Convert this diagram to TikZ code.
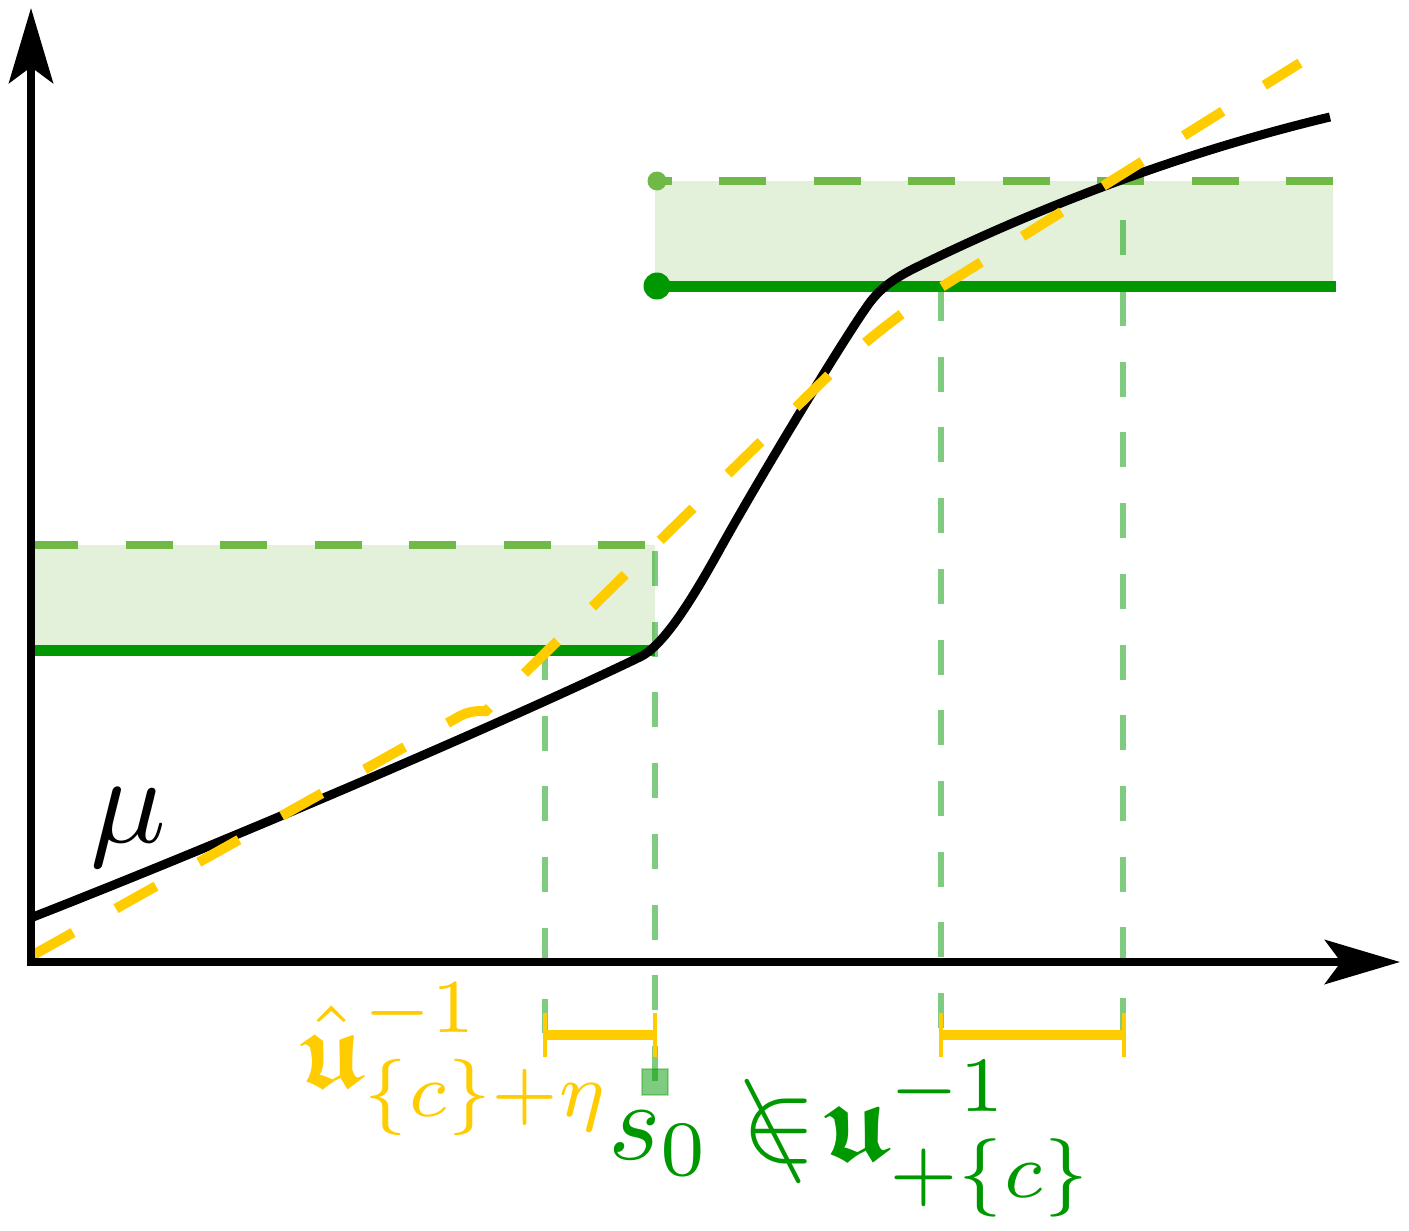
\documentclass[tikz,border=0pt]{standalone}
\usepackage{amsmath,amssymb}
\usepackage{graphicx}
\usetikzlibrary{arrows.meta}
\definecolor{dkgreen}{RGB}{0,152,0}
\definecolor{dshgreen}{RGB}{112,185,70}
\definecolor{boxfill}{RGB}{227,240,218}
\definecolor{ylw}{RGB}{255,204,0}
\begin{document}
\begin{tikzpicture}[x=0.5pt,y=-0.5pt,
  axis/.style={line width=4pt, {Stealth[length=37.5pt,width=22pt,inset=8pt]}-{Stealth[length=37.5pt,width=22pt,inset=8pt]}},
  solidg/.style={dkgreen, line width=5.5pt},
  dashg/.style={dshgreen, line width=4pt, dash pattern=on 23.5pt off 23.75pt},
  vdash/.style={dkgreen, draw opacity=0.5, line width=3pt, dash pattern=on 17.5pt off 17.85pt},
  ycurve/.style={ylw, line width=5pt, dash pattern=on 23pt off 24.5pt},
  ybracket/.style={ylw, line width=5pt},
  ytick/.style={ylw, line width=2.4pt},
  mucurve/.style={black, line width=4.5pt},
  boxarea/.style={fill=boxfill},
  lbl/.style={anchor=base west, inner sep=0pt},
]
\useasboundingbox (0,0) rectangle (1409,1231);
% shaded bands
\fill[boxarea] (31,545) rectangle (655,650);
\fill[boxarea] (655,181) rectangle (1333,286);
% vertical dashed guides
\draw[vdash] (545,645) -- (545,1033);
\draw[vdash] (655,551) -- (655,1082);
\draw[vdash] (941,286) -- (941,1033);
\draw[vdash] (1123,1033) -- (1123,181);
% dashed upper bounds
\draw[dashg] (31,545) -- (655,545);
\draw[dashg] (1333,181) -- (657,181);
\fill[dshgreen] (657,181) circle[radius=4.75pt];
% solid levels
\draw[solidg] (31,650) -- (655,650);
\draw[solidg] (657,286) -- (1336,286);
\fill[dkgreen] (657,286) circle[radius=6.75pt];
% marker square
\filldraw[fill=dkgreen, fill opacity=0.5, draw=dkgreen, draw opacity=0.3, line width=1pt] (642,1069) rectangle (668,1095);
% mu curve
\draw[mucurve] (33,917) .. controls (250,832) and (520,715) .. (640,657)
  .. controls (665,645) and (695,594) .. (720,549)
  .. controls (760,477) and (843,340) .. (868,305)
  .. controls (880,288) and (895,278) .. (915,268)
  .. controls (1000,226) and (1150,160) .. (1330,117);
% yellow dashed approximation
\draw[ycurve] (33,955) -- (460,716) .. controls (470,711) and (476,711) .. (486,711)
  -- (830,374) .. controls (860,345) and (905,310) .. (935,291) -- (1300,63);
% brackets
\draw[ybracket] (545,1035) -- (655,1035);
\draw[ytick] (545,1013) -- (545,1057);
\draw[ytick] (655,1013) -- (655,1057);
\draw[ybracket] (941,1035) -- (1124,1035);
\draw[ytick] (941,1013) -- (941,1057);
\draw[ytick] (1124,1013) -- (1124,1057);
% axes
\draw[axis] (31,8) |- (1400,962);
% labels
\node[lbl, text=black] (mulabel) at (90,842) {\scalebox{6.3}{$\mu$}};
\node[lbl, text=ylw] (ulabel) at (299,1086) {\scalebox{5.45}{$\hat{\boldsymbol{\mathfrak{u}}}^{-1}_{\{c\}+\eta}$}};
\node[lbl, text=dkgreen] (slabel) at (608,1159) {\scalebox{5.6}{$s_0\mathrel{\reflectbox{$\not\ni$}}\mskip-4mu\boldsymbol{\mathfrak{u}}^{-1}_{+\{c\}}$}};
\end{tikzpicture}
\end{document}
